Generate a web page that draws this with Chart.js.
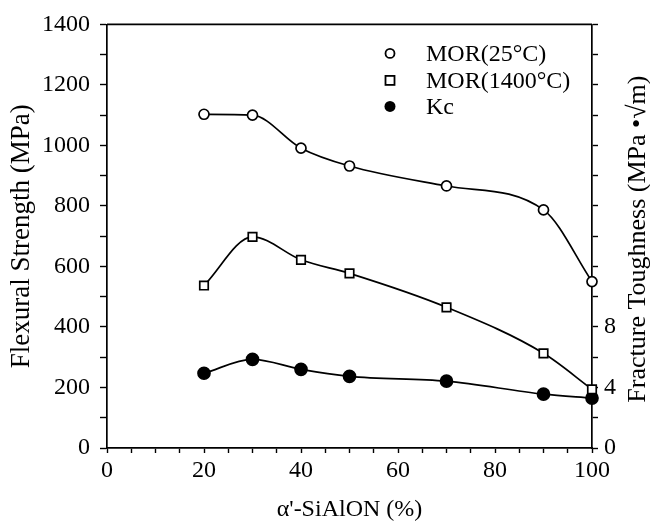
<!DOCTYPE html>
<html>
<head>
<meta charset="utf-8">
<script src="https://cdn.jsdelivr.net/npm/chart.js@4.4.1/dist/chart.umd.min.js"></script>
<style>
html,body{margin:0;padding:0;background:#fff;}
canvas{display:block;}
</style>
</head>
<body>
<canvas id="c" width="650" height="527"></canvas>
<script>
// ---- data ----
const xValues = [20, 30, 40, 50, 70, 90, 100];
const mor25 = [1103, 1100, 991, 932, 866, 787, 550];
const mor1400 = [537, 698, 622, 577, 465, 313, 194];
const kc = [4.94, 5.86, 5.2, 4.74, 4.42, 3.56, 3.3];
const seriesLabels = ['MOR(25°C)', 'MOR(1400°C)', 'Kc'];
const xTickLabels = [0, 20, 40, 60, 80, 100];
const yTickLabels = [0, 200, 400, 600, 800, 1000, 1200, 1400];
const y2TickLabels = [0, 4, 8];
const xTitle = "α'-SiAlON (%)";
const yTitle = 'Flexural Strength (MPa)';
const y2Title = 'Fracture Toughness (MPa •√m)';

const FONT = 'Liberation Serif';
const pts = arr => xValues.map((x, i) => ({x: x, y: arr[i]}));

const legendPlugin = {
  id: 'insideLegend',
  afterDraw(chart) {
    const {ctx, chartArea} = chart;
    ctx.save();
    ctx.font = '24px "' + FONT + '"';
    ctx.fillStyle = '#000';
    ctx.strokeStyle = '#000';
    ctx.textBaseline = 'middle';
    const mx = chartArea.left + 283, tx = chartArea.left + 319;
    const rows = [chartArea.top + 29, chartArea.top + 56, chartArea.top + 82];
    chart.data.datasets.forEach((ds, i) => {
      const y = rows[i];
      ctx.lineWidth = 1.8;
      if (ds.pointStyle === 'rect') {
        ctx.strokeRect(mx - 4.5, y - 4.5, 9, 9);
      } else if (ds.pointBackgroundColor === '#000') {
        ctx.beginPath(); ctx.arc(mx, y, 5.5, 0, Math.PI * 2); ctx.fill();
      } else {
        ctx.beginPath(); ctx.arc(mx, y, 4.5, 0, Math.PI * 2); ctx.stroke();
      }
      ctx.fillText(ds.label, tx, y + 1);
    });
    // right axis title, reading bottom-to-top
    ctx.save();
    ctx.font = '26px "' + FONT + '"';
    ctx.translate(chart.scales.y2.right - 12, (chartArea.top + chartArea.bottom) / 2 + 3);
    ctx.rotate(-Math.PI / 2);
    ctx.textAlign = 'center';
    ctx.fillText(y2Title, 0, 0);
    ctx.restore();
    // top frame line
    ctx.lineWidth = 1.6;
    ctx.beginPath();
    ctx.moveTo(chartArea.left, chartArea.top);
    ctx.lineTo(chartArea.right, chartArea.top);
    ctx.stroke();
    ctx.restore();
  }
};

const common = {
  borderColor: '#000',
  borderWidth: 1.7,
  pointBorderColor: '#000',
  pointBorderWidth: 1.7,
  cubicInterpolationMode: 'monotone',
  fill: false,
  clip: false
};

new Chart(document.getElementById('c'), {
  type: 'line',
  data: {
    datasets: [
      Object.assign({}, common, {label: seriesLabels[0], data: pts(mor25), yAxisID: 'y',
        pointStyle: 'circle', pointRadius: 5, pointBackgroundColor: '#fff'}),
      Object.assign({}, common, {label: seriesLabels[1], data: pts(mor1400), yAxisID: 'y',
        pointStyle: 'rect', pointRadius: 6, pointBackgroundColor: '#fff'}),
      Object.assign({}, common, {label: seriesLabels[2], data: pts(kc), yAxisID: 'y2',
        pointStyle: 'circle', pointRadius: 6, pointBackgroundColor: '#000'})
    ]
  },
  options: {
    responsive: false,
    animation: false,
    layout: {padding: {top: 23, left: 0, right: 0, bottom: 0}},
    plugins: {legend: {display: false}, tooltip: {enabled: false}},
    scales: {
      x: {
        type: 'linear', min: 0, max: 100,
        afterFit: s => { s.height = 79; },
        border: {color: '#000', width: 1.7},
        grid: {drawOnChartArea: false, color: '#000', tickLength: 5, tickWidth: 1.4},
        ticks: {
          stepSize: 5, autoSkip: false, maxRotation: 0, color: '#000', padding: 3,
          font: {family: FONT, size: 24},
          callback: v => xTickLabels.includes(v) ? String(v) : ''
        },
        title: {display: true, text: xTitle, color: '#000', font: {family: FONT, size: 24},
          padding: {top: 0, bottom: 3}}
      },
      y: {
        type: 'linear', position: 'left', min: 0, max: 1400,
        afterFit: s => { s.width = 107; },
        border: {color: '#000', width: 1.7},
        grid: {drawOnChartArea: false, color: '#000', tickLength: 7, tickWidth: 1.4},
        ticks: {
          stepSize: 100, autoSkip: false, color: '#000', padding: 10,
          font: {family: FONT, size: 24},
          callback: v => yTickLabels.includes(v) ? String(v) : ''
        },
        title: {display: true, text: yTitle, color: '#000', font: {family: FONT, size: 27},
          padding: {top: 6, bottom: 0}}
      },
      y2: {
        type: 'linear', position: 'right', min: 0, max: 28,
        afterFit: s => { s.width = 58; },
        border: {color: '#000', width: 1.7},
        grid: {drawOnChartArea: false, color: '#000', tickLength: 6, tickWidth: 1.4},
        ticks: {
          stepSize: 2, autoSkip: false, color: '#000', padding: 6,
          font: {family: FONT, size: 24},
          callback: v => y2TickLabels.includes(v) ? String(v) : ''
        }
      }
    }
  },
  plugins: [legendPlugin]
});
</script>
</body>
</html>
